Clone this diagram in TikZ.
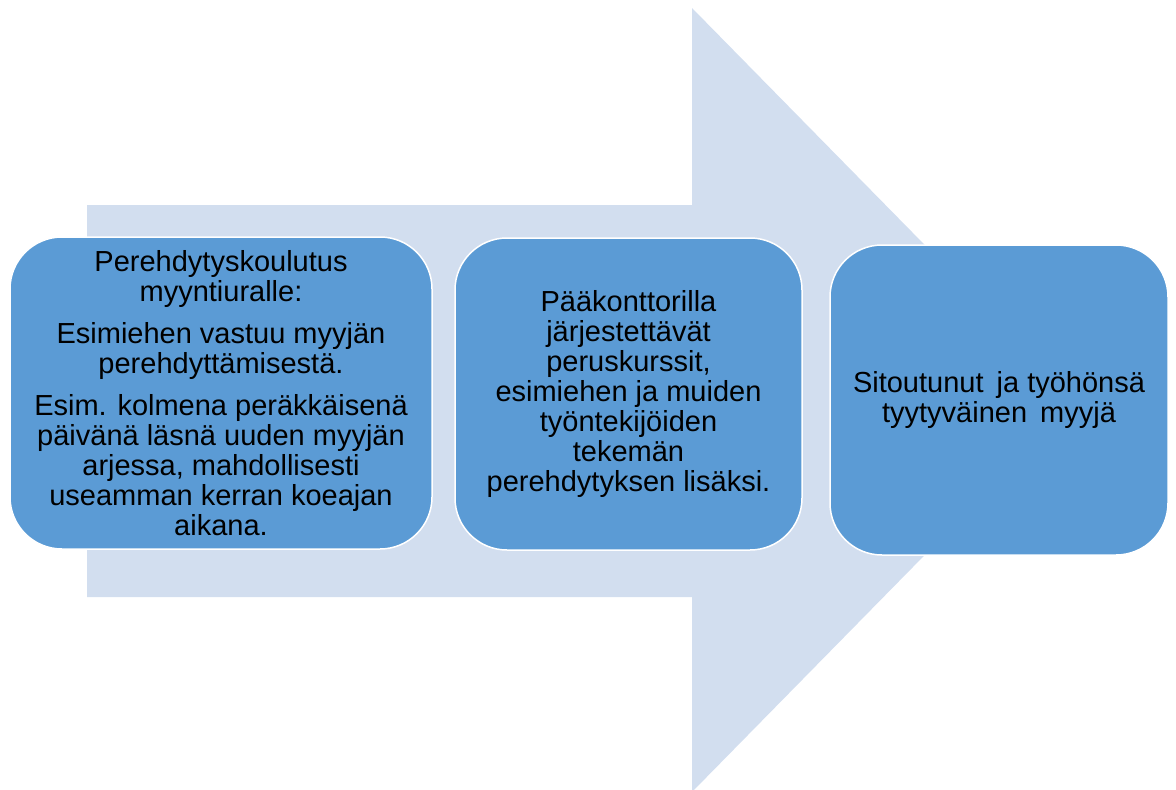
\documentclass[tikz,border=0pt]{standalone}
\usepackage{fontspec}
\setmainfont{Liberation Sans}
\definecolor{arrowfill}{HTML}{D2DEEF}
\definecolor{boxfill}{HTML}{5B9BD5}
\begin{document}
\begin{tikzpicture}[x=1pt,y=-1pt,
  stagebox/.style={draw=white,line width=1.5pt,fill=boxfill,rounded corners=52pt,
    inner sep=0pt,align=center,text=black,
    font=\fontsize{29}{30}\selectfont}]
\useasboundingbox (0,0) rectangle (1176,790);
\fill[arrowfill] (87,205) -- (692,205) -- (692,8) -- (1077,400) -- (692,792) -- (692,597) -- (87,597) -- cycle;
\node[stagebox,minimum width=422pt,minimum height=312pt] (s1) at (221,393)
  {Perehdytyskoulutus\\myyntiuralle:\\[12pt]
   Esimiehen vastuu myyjän\\perehdyttämisestä.\\[12pt]
   Esim. kolmena peräkkäisenä\\päivänä läsnä uuden myyjän\\arjessa, mahdollisesti\\useamman kerran koeajan\\aikana.};
\node[stagebox,minimum width=347pt,minimum height=312pt] (s2) at (628.5,394)
  {Pääkonttorilla\\järjestettävät\\peruskurssit,\\esimiehen ja muiden\\työntekijöiden\\tekemän\\perehdytyksen lisäksi.};
\node[stagebox,minimum width=338pt,minimum height=310pt] (s3) at (999,400)
  {Sitoutunut\hspace{5pt} ja työhönsä\\tyytyväinen\hspace{5pt} myyjä};
\end{tikzpicture}
\end{document}
